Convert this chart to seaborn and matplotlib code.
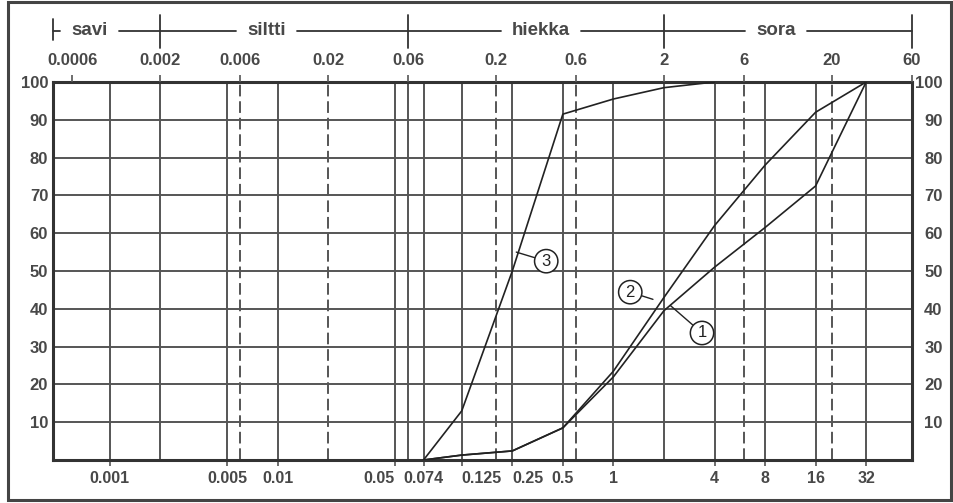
import matplotlib
matplotlib.use("Agg")
import numpy as np
import pandas as pd
import matplotlib.pyplot as plt
import matplotlib.transforms as mtransforms
from matplotlib.ticker import FixedLocator, FixedFormatter, NullLocator
import seaborn as sns

# ── Data ──────────────────────────────────────────────────────────────────────
size_1 = [0.074, 0.125, 0.25, 0.5, 1, 2, 4, 8, 16, 32]
pass_1 = [0, 1.3, 2.4, 8.5, 22, 39.5, 51, 61.5, 72.5, 100]
size_2 = [0.074, 0.125, 0.25, 0.5, 1, 2, 4, 8, 16, 32]
pass_2 = [0, 1.3, 2.4, 8.5, 23.5, 43, 62, 78, 92, 100]
size_3 = [0.074, 0.125, 0.25, 0.5, 1, 2, 4]
pass_3 = [0, 13, 50, 91.5, 95.5, 98.5, 100]

bottom_ticks = [0.001, 0.005, 0.01, 0.05, 0.074, 0.125, 0.25, 0.5, 1, 4, 8, 16, 32]
bottom_labels = ["0.001", "0.005", "0.01", "0.05", "0.074", "0.125", "0.25",
                 "0.5", "1", "4", "8", "16", "32"]
top_ticks = [0.0006, 0.002, 0.006, 0.02, 0.06, 0.2, 0.6, 2, 6, 20, 60]
top_labels = ["0.0006", "0.002", "0.006", "0.02", "0.06", "0.2", "0.6",
              "2", "6", "20", "60"]
dashed_lines = [0.006, 0.02, 0.2, 0.6, 6, 20]
boundary_lines = [0.002, 0.06, 2]
percent_ticks = [10, 20, 30, 40, 50, 60, 70, 80, 90, 100]

fraction_names = ["savi", "siltti", "hiekka", "sora"]
fraction_bounds = [0.002, 0.06, 2, 60]
fraction_text_x = [0.00076, 0.0086, 0.37, 9.3]

curve_ids = ["1", "2", "3"]
curve_anchor_x = [2.18, 1.72, 0.264]
curve_anchor_y = [40.9, 42.5, 55]
curve_text_x = [3.37, 1.26, 0.398]
curve_text_y = [33.6, 44.4, 52.6]

X_MIN, X_MAX = 0.00046, 60

# ── Style ─────────────────────────────────────────────────────────────────────
sns.set_theme(style="white")
plt.rcParams["font.family"] = ["Liberation Sans", "DejaVu Sans"]
INK = "#333333"
TXT = "#484848"
GRID = "#555555"

fig = plt.figure(figsize=(9.54, 5.03), dpi=100)
ax = fig.add_axes([53 / 954, 43 / 503, 859 / 954, 378 / 503])

df = pd.concat([
    pd.DataFrame({"d": size_1, "p": pass_1, "curve": "1"}),
    pd.DataFrame({"d": size_2, "p": pass_2, "curve": "2"}),
    pd.DataFrame({"d": size_3, "p": pass_3, "curve": "3"}),
], ignore_index=True)

sns.lineplot(data=df, x="d", y="p", units="curve", estimator=None, sort=False,
             color="#222222", lw=1.2, legend=False, ax=ax, zorder=4)

ax.set_xscale("log")
ax.set_xlim(X_MIN, X_MAX)
ax.set_ylim(0, 100)
ax.set_xlabel("")
ax.set_ylabel("")
ax.grid(False)

# ── Grid ──────────────────────────────────────────────────────────────────────
for v in percent_ticks[:-1]:
    ax.axhline(v, color=GRID, lw=1.4, zorder=1)
for v in bottom_ticks + boundary_lines:
    ax.axvline(v, color=GRID, lw=1.4, zorder=1)
for v in dashed_lines:
    ax.axvline(v, color=GRID, lw=1.4, ls=(0, (6, 2.5)), zorder=1)

for s in ax.spines.values():
    s.set_linewidth(2.2)
    s.set_color(INK)
    s.set_visible(True)

# bottom axis
ax.xaxis.set_major_locator(FixedLocator(bottom_ticks))
ax.xaxis.set_major_formatter(FixedFormatter(bottom_labels))
ax.xaxis.set_minor_locator(NullLocator())
ax.tick_params(axis="x", bottom=True, direction="out", length=4, width=1.2,
               color=GRID, pad=4, labelsize=11.5, labelcolor=TXT)

# left axis
ax.yaxis.set_major_locator(FixedLocator(percent_ticks))
ax.tick_params(axis="y", left=False, right=False, length=0, pad=3.5,
               labelsize=12, labelcolor=TXT)

# right axis
ax_r = ax.twinx()
ax_r.set_ylim(0, 100)
ax_r.yaxis.set_major_locator(FixedLocator(percent_ticks))
ax_r.tick_params(axis="y", length=0, pad=22, labelsize=12, labelcolor=TXT)
for lbl in ax_r.get_yticklabels():
    lbl.set_ha("right")
for s in ax_r.spines.values():
    s.set_visible(False)

# top axis
ax_t = ax.twiny()
ax_t.set_xscale("log")
ax_t.set_xlim(X_MIN, X_MAX)
ax_t.xaxis.set_major_locator(FixedLocator(top_ticks))
ax_t.xaxis.set_major_formatter(FixedFormatter(top_labels))
ax_t.xaxis.set_minor_locator(NullLocator())
ax_t.tick_params(axis="x", top=True, direction="out", length=5, width=1.2,
                 color=GRID, pad=5, labelsize=12, labelcolor=TXT)
for s in ax_t.spines.values():
    s.set_visible(False)

for lbl in ax.get_xticklabels() + ax.get_yticklabels() + ax_r.get_yticklabels() + ax_t.get_xticklabels():
    lbl.set_fontweight("bold")

# crowded labels around 0.05 … 0.25 are nudged off their lines, as on the original
xlabels = ax.get_xticklabels()
xlabels[bottom_labels.index("0.05")].set_ha("right")
xlabels[bottom_labels.index("0.125")].set_ha("left")
xlabels[bottom_labels.index("0.25")].set_ha("left")

# ── Fraction bracket (savi / siltti / hiekka / sora) ─────────────────────────
trans = mtransforms.blended_transform_factory(ax.transData, ax.transAxes)
y_line = 1.135
texts = []
for name, xpos in zip(fraction_names, fraction_text_x):
    t = ax.text(xpos, y_line, name, transform=trans, ha="center", va="center",
                fontsize=13.5, fontweight="bold", color=TXT, clip_on=False)
    texts.append(t)

fig.canvas.draw()
renderer = fig.canvas.get_renderer()
inv = ax.transData.inverted()
gap = 11
edges = [X_MIN]
for t in texts:
    bb = t.get_window_extent(renderer)
    x0 = inv.transform((bb.x0 - gap, 0))[0]
    x1 = inv.transform((bb.x1 + gap, 0))[0]
    edges += [x0, x1]
edges.append(X_MAX)
for a, b in zip(edges[0::2], edges[1::2]):
    ax.plot([a, b], [y_line, y_line], color=INK, lw=1.3, transform=trans, clip_on=False)
ax.plot([X_MIN, X_MIN], [1.112, 1.167], color=INK, lw=1.3, transform=trans, clip_on=False)
for b in fraction_bounds:
    ax.plot([b, b], [1.09, 1.177], color=INK, lw=1.3, transform=trans, clip_on=False)

# ── Curve labels ──────────────────────────────────────────────────────────────
for cid, ax_x, ay, tx, ty in zip(curve_ids, curve_anchor_x, curve_anchor_y,
                                 curve_text_x, curve_text_y):
    ax.annotate(cid, xy=(ax_x, ay), xytext=(tx, ty), ha="center", va="center",
                fontsize=12, color="#222222", zorder=6,
                bbox=dict(boxstyle="circle,pad=0.25", fc="white", ec="#222222", lw=1.1),
                arrowprops=dict(arrowstyle="-", color="#222222", lw=1.0,
                                shrinkA=0, shrinkB=0))

# outer frame
fig.add_artist(plt.Rectangle((0.008, 0.006), 0.989, 0.99, transform=fig.transFigure,
                             fill=False, lw=2.2, ec="#444444"))

fig.savefig("out.png", dpi=100)
